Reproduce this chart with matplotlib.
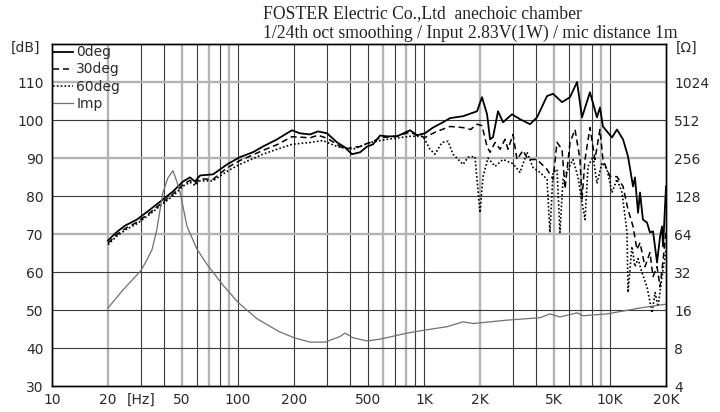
import matplotlib
matplotlib.use("Agg")
import matplotlib.pyplot as plt
from matplotlib.ticker import FixedLocator, NullLocator

# ---------------- data ----------------
f0 = [20, 22.4, 24.7, 28.6, 33.6, 39.5, 44.7, 50.6, 55.2, 58.7, 62.5, 73.4, 87.3, 102, 120,
      136, 162, 195, 215, 244, 269, 301, 341, 376, 410, 453, 494, 532, 580, 632, 716, 841,
      917, 1012, 1117, 1265, 1380, 1622, 1928, 2050, 2183, 2265, 2350, 2500, 2660, 2972,
      3283, 3716, 4052, 4585, 4940, 5520, 6095, 6650, 7070, 7800, 8510, 8830, 9160, 10250,
      10900, 11750, 12500, 13300, 13620, 14150, 14500, 15030, 15810, 16400, 17030, 17900,
      18580, 19050, 19290, 20000]
db0 = [68.3, 70.6, 72.2, 73.8, 76.4, 79.1, 81.2, 83.8, 84.9, 83.8, 85.4, 85.7, 88.3, 90.2, 91.5,
       93.0, 94.9, 97.3, 96.5, 96.2, 97.0, 96.5, 94.1, 92.8, 91.0, 91.5, 93.0, 93.6, 95.9, 95.7, 95.7, 97.3,
       96.0, 96.5, 98.0, 99.4, 100.5, 101.0, 102.3, 106.0, 101.5, 94.9, 95.5, 102.3, 99.4, 101.5,
       100.2, 98.9, 100.7, 106.3, 106.9, 104.7, 106.0, 110.0, 100.7, 107.3, 100.7, 103.3, 98.3, 95.4,
       97.5, 94.9, 90.4, 82.5, 84.9, 75.6, 80.9, 73.8, 73.0, 70.4, 70.7, 62.5,
       69.3, 72.0, 66.7, 82.5]

f30 = [20, 22.4, 24.7, 28.6, 33.6, 39.5, 44.7, 50.6, 55.2, 58.7, 62.5, 73.4, 87.3, 102, 120,
       136, 162, 195, 215, 244, 269, 301, 341, 376, 410, 453, 494, 532, 580, 632, 716, 841,
       917, 1012, 1117, 1175, 1380, 1622, 1780, 1928, 2050, 2183, 2265, 2410, 2565, 2725,
       2830, 3010, 3160, 3405, 3623, 4052, 4585, 4940, 5190, 5520, 5730, 6095, 6485, 6900,
       7070, 7340, 7800, 8300, 8830, 9160, 10000, 10900, 11750, 12500, 13300, 13960, 14500,
       15420, 16400, 17030, 17900, 18580, 19290, 20000]
db30 = [67.6, 69.9, 71.4, 73.1, 75.6, 78.4, 80.5, 83.0, 84.1, 83.2, 84.5, 84.4, 87.4, 89.3, 90.8,
        92.0, 93.5, 95.6, 95.5, 95.3, 96.0, 95.2, 93.6, 92.2, 92.8, 93.0, 93.8, 94.3, 95.4, 95.5, 95.8, 96.8,
        96.0, 95.4, 96.5, 97.0, 98.3, 98.0, 97.5, 98.9, 98.5, 93.0, 91.5, 94.1, 92.3, 94.9,
        92.3, 96.2, 89.6, 92.0, 89.6, 89.6, 87.0, 84.4, 94.1, 92.3, 81.9, 94.1, 97.5, 89.6,
        79.2, 89.6, 98.0, 89.6, 97.5, 89.6, 85.1, 85.1, 82.5, 76.4, 72.0, 65.9, 67.7,
        61.4, 65.1, 58.8, 61.4, 56.1, 63.2, 70.4]

f60 = [20, 22.4, 24.7, 28.6, 33.6, 39.5, 44.7, 50.6, 55.2, 58.7, 62.5, 73.4, 87.3, 102, 120,
       136, 162, 195, 244, 286, 341, 415, 512, 632, 841, 988, 1077, 1146, 1250, 1346, 1432,
       1622, 1725, 1879, 2000, 2076, 2208, 2410, 2660, 3010, 3283, 3580, 3855, 4205, 4585,
       4755, 4940, 5190, 5380, 5590, 5945, 6325, 6730, 7070, 7340, 7620, 8110, 8510, 9060,
       9640, 10250, 10900, 11610, 12340, 12500, 13120, 13620, 14150, 14860, 15810, 16830,
       17470, 18130, 19050, 20000]
db60 = [67.2, 69.5, 71.0, 72.7, 75.2, 78.0, 80.0, 82.6, 83.6, 82.8, 84.0, 84.0, 86.5, 88.3, 89.8,
        91.0, 92.3, 93.6, 94.1, 94.6, 93.0, 92.3, 94.1, 94.9, 95.7, 95.7, 92.3, 91.0, 94.1, 94.4, 91.0,
        88.3, 90.2, 90.4, 75.6, 85.1, 90.0, 87.8, 89.6, 88.5, 86.2, 91.5, 87.5, 86.2, 84.4,
        70.4, 86.2, 87.0, 70.4, 84.4, 87.0, 89.6, 85.0, 78.3, 73.8, 87.8, 90.4, 83.3, 88.8,
        87.0, 80.9, 84.4, 80.9, 70.4, 54.6, 66.7, 61.4, 63.5, 59.8, 56.1, 49.3,
        54.6, 50.9, 58.8, 65.9]

f_imp = [20, 24.1, 30, 32.4, 34.5, 36.5, 39.5, 42, 44.7, 46.8, 48.8, 53.2, 60.2, 68.1, 83, 100,
         126, 166, 200, 244, 294, 353, 376, 415, 494, 580, 811, 1012, 1330, 1622, 1834, 2795,
         4205, 4755, 5380, 6650, 7160, 9640, 14500, 20000]
ohm_imp = [16.6, 23.1, 32.7, 39.9, 48.2, 68, 137, 178, 203, 168, 137, 73.5, 48.5, 36.8, 25.2, 18.4,
           13.7, 10.8, 9.65, 8.9, 8.9, 9.85, 10.5, 9.65, 9.1, 9.4, 10.5, 11.1, 11.8, 12.9, 12.5, 13.3,
           13.9, 14.9, 14.1, 15.2, 14.4, 14.9, 16.6, 17.8]

x_ticks = [10, 20, 30, 50, 100, 200, 500, 1000, 2000, 5000, 10000, 20000]
x_labels = ["10", "20", "[Hz]", "50", "100", "200", "500", "1K", "2K", "5K", "10K", "20K"]
db_ticks = [30, 40, 50, 60, 70, 80, 90, 100, 110]
ohm_ticks = [4, 8, 16, 32, 64, 128, 256, 512, 1024]
series_labels = ["0deg", "30deg", "60deg", "Imp"]
title1 = "FOSTER Electric Co.,Ltd  anechoic chamber"
title2 = "1/24th oct smoothing / Input 2.83V(1W) / mic distance 1m"

# ---------------- figure ----------------
W, H = 720, 412
fig = plt.figure(figsize=(W / 100, H / 100), dpi=100)
fig.patch.set_facecolor("white")
L, R, T, B = 52, 666, 44, 386
ax = fig.add_axes([L / W, 1 - B / H, (R - L) / W, (B - T) / H])
ax.set_xscale("log")
ax.set_xlim(10, 20000)
ax.set_ylim(30, 120)

# grid
gray_v = {20, 50, 70, 90, 600, 800, 2000, 5000, 7000, 9000}
for dec in [10, 100, 1000, 10000]:
    for m in range(1, 10):
        fv = dec * m
        if fv <= 10 or fv >= 20000:
            continue
        if fv in gray_v:
            ax.axvline(fv, color="#b4b4b4", lw=1.7, zorder=1)
        else:
            ax.axvline(fv, color="#3a3a3a", lw=0.8, zorder=1)
gray_h = {110, 90, 70}
for yv in range(40, 120, 10):
    if yv in gray_h:
        ax.axhline(yv, color="#b4b4b4", lw=1.7, zorder=1)
    else:
        ax.axhline(yv, color="#3a3a3a", lw=0.8, zorder=1)

l0, = ax.plot(f0, db0, color="black", lw=1.3, zorder=4, label=series_labels[0])
l30, = ax.plot(f30, db30, color="black", lw=1.1, ls=(0, (4, 2.5)), zorder=3, label=series_labels[1])
l60, = ax.plot(f60, db60, color="black", lw=1.2, ls=(0, (1, 1.3)), zorder=3, label=series_labels[2])

ax2 = ax.twinx()
ax2.set_yscale("log", base=2)
ax2.set_ylim(4, 2048)
limp, = ax2.plot(f_imp, ohm_imp, color="#707070", lw=0.9, zorder=2, label=series_labels[3])

tick_font = dict(family="DejaVu Sans", size=10, color="#2a2a2a")
ax.xaxis.set_major_locator(FixedLocator(x_ticks))
ax.xaxis.set_minor_locator(NullLocator())
ax.set_xticklabels(x_labels, **tick_font)
ax.set_yticks(db_ticks)
ax.set_yticklabels([str(v) for v in db_ticks], **tick_font)
ax.yaxis.set_minor_locator(NullLocator())
ax2.yaxis.set_major_locator(FixedLocator(ohm_ticks))
ax2.yaxis.set_minor_locator(NullLocator())
ax2.set_yticklabels([str(v) for v in ohm_ticks], **tick_font)
ax.tick_params(axis="both", length=0, pad=6)
ax.tick_params(axis="x", pad=5)
ax2.tick_params(axis="y", length=0, pad=6)

for a in (ax, ax2):
    for s in a.spines.values():
        s.set_color("black")
        s.set_linewidth(1.0)

fig.text(40 / W, 1 - 48 / H, "[dB]", ha="right", va="center", **tick_font)
fig.text(676 / W, 1 - 48 / H, "[Ω]", ha="left", va="center", **tick_font)

leg = ax.legend(handles=[l0, l30, l60, limp], loc="upper left", frameon=False,
                prop=dict(family="DejaVu Sans", size=10), handlelength=1.4,
                handletextpad=0.25, labelspacing=0.22, borderaxespad=0.0, borderpad=0.1)
for t in leg.get_texts():
    t.set_color("#2a2a2a")
leg.set_zorder(10)

fig.text(263 / W, 1 - 14 / H, title1, ha="left", va="center",
         family="Liberation Serif", size=12.7, color="#222")
fig.text(263 / W, 1 - 33 / H, title2, ha="left", va="center",
         family="Liberation Serif", size=12.7, color="#222")

fig.savefig("out.png", dpi=100, facecolor="white")
